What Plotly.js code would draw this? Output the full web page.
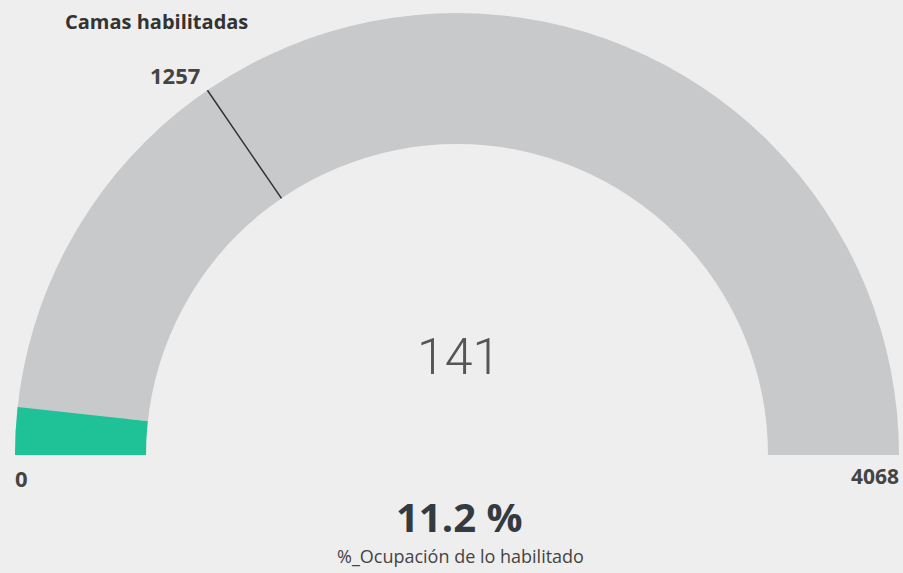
<!DOCTYPE html>
<html><head><meta charset="utf-8">
<script src="https://cdn.plot.ly/plotly-3.0.1.min.js"></script>
<style>html,body{margin:0;padding:0;background:#eeeeee;}#chart{width:903px;height:573px;}</style>
</head><body><div id="chart"></div>
<script>
const chartTitle = "Camas habilitadas";
const gaugeMin = 0;
const gaugeMax = 4068;
const currentValue = 141;
const targetValue = 1257;
const percentValue = 11.2;
const percentLabel = "%_Ocupación de lo habilitado";

const W = 903, H = 573, CX = 457, CY = 455;
const bg = "#eeeeee", grey = "#c8c9cb", teal = "#1fc197";
function dom(r) {
  return {x: [(CX - r) / W, (CX + r) / W], y: [(H - CY) / H, (H - CY + r) / H]};
}
function gauge(r, value, fill, barColor, withThreshold, restColor) {
  const g = {
    shape: "angular",
    axis: {range: [gaugeMin, gaugeMax], visible: false},
    bar: {color: barColor, thickness: 1, line: {width: 0}},
    bgcolor: fill,
    borderwidth: 0
  };
  if (restColor) g.steps = [{range: [value, gaugeMax], color: restColor, thickness: 1, line: {width: 0}}];
  if (withThreshold) g.threshold = {line: {color: "#333333", width: 1.5}, thickness: 1, value: targetValue};
  return {type: "indicator", mode: "gauge", value: value, domain: dom(r), gauge: g};
}
const traces = [
  gauge(442, currentValue, grey, teal, true),
  gauge(336, currentValue, "rgba(0,0,0,0)", teal, true, grey),
  gauge(311, gaugeMin, bg, "rgba(0,0,0,0)", false)
];
const font = "Open Sans, Noto Sans, sans-serif";
function ann(text, x, y, xanchor, f) {
  return {text: text, x: x / W, y: 1 - y / H, xref: "paper", yref: "paper", xanchor: xanchor, yanchor: "middle", showarrow: false, font: f};
}
const layout = {
  width: W, height: H,
  margin: {l: 0, r: 0, t: 0, b: 0},
  paper_bgcolor: bg,
  showlegend: false,
  annotations: [
    ann("<b>" + chartTitle + "</b>", 63, 22, "left", {family: font, size: 20, color: "#333333"}),
    ann("<b>" + targetValue + "</b>", 175, 75, "center", {family: font, size: 22, color: "#444444"}),
    ann("<b>" + gaugeMin + "</b>", 21, 478, "center", {family: font, size: 22, color: "#444444"}),
    ann("<b>" + gaugeMax + "</b>", 901, 476, "right", {family: font, size: 21, color: "#444444"}),
    ann(String(currentValue), 458, 357, "center", {family: "Roboto, sans-serif", size: 50, weight: 300, color: "#555555"}),
    ann("<b>" + percentValue.toFixed(1) + " %</b>", 459, 516, "center", {family: font, size: 40, color: "#333a40"}),
    ann(percentLabel, 460, 556, "center", {family: font, size: 18, color: "#444444"})
  ]
};
Plotly.newPlot("chart", traces, layout, {displayModeBar: false, staticPlot: true});
</script></body></html>
